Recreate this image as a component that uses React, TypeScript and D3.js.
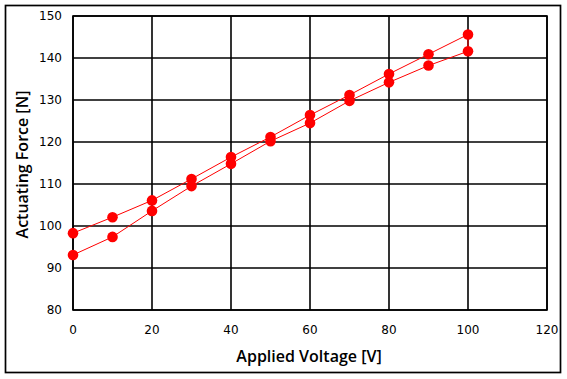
import React from "react";
import * as d3 from "d3";

const voltage = [0, 10, 20, 30, 40, 50, 60, 70, 80, 90, 100];
const forceIncreasing = [93.1, 97.4, 103.6, 109.5, 114.8, 120.2, 124.5, 129.8, 134.2, 138.2, 141.6];
const forceDecreasing = [98.3, 102.1, 106.1, 111.2, 116.4, 121.2, 126.4, 131.2, 136.2, 140.9, 145.6];
const xTicks = [0, 20, 40, 60, 80, 100, 120];
const yTicks = [80, 90, 100, 110, 120, 130, 140, 150];
const xTitle = "Applied Voltage [V]";
const yTitle = "Actuating Force [N]";

export default function App() {
  const W = 567, H = 379;
  const L = 73, R = 547, T = 16, B = 310;
  const x = d3.scaleLinear().domain([0, 120]).range([L, R]);
  const y = d3.scaleLinear().domain([80, 150]).range([B, T]);

  const up = voltage.map((v, i) => [v, forceIncreasing[i]] as [number, number]);
  const down = voltage.map((v, i) => [v, forceDecreasing[i]] as [number, number]).reverse();
  const pts = [...up, ...down];
  const line = d3.line<[number, number]>().x(d => x(d[0])).y(d => y(d[1]));
  const font = "'DejaVu Sans', sans-serif";
  const titleFont = "'Open Sans', sans-serif";

  return (
    <svg width={W} height={H} style={{ position: "absolute", left: 0, top: 0, background: "#fff" }}>
      <rect x={0} y={0} width={W} height={H} fill="#fff" />
      <rect x={5.5} y={5.5} width={555} height={367} fill="none" stroke="#000" strokeWidth={1.7} />
      {yTicks.map(t => (
        <line key={"gy" + t} x1={L} x2={R} y1={y(t)} y2={y(t)} stroke="#000" strokeWidth={1.6} />
      ))}
      {xTicks.map(t => (
        <line key={"gx" + t} x1={x(t)} x2={x(t)} y1={T} y2={B} stroke="#000" strokeWidth={1.6} />
      ))}
      <rect x={L} y={T} width={R - L} height={B - T} fill="none" stroke="#000" strokeWidth={1.6} />
      {yTicks.map(t => (
        <text key={"ty" + t} x={62} y={y(t)} dy="0.35em" textAnchor="end" fontFamily={font} fontSize={12} fill="#000">{t}</text>
      ))}
      {xTicks.map(t => (
        <text key={"tx" + t} x={x(t)} y={330} dy="0.35em" textAnchor="middle" fontFamily={font} fontSize={12} fill="#000">{t}</text>
      ))}
      <text x={309} y={362} textAnchor="middle" fontFamily={titleFont} fontWeight={600} fontSize={16} fill="#000">{xTitle}</text>
      <text transform={`translate(28,164.5) rotate(-90)`} textAnchor="middle" fontFamily={titleFont} fontWeight={600} fontSize={16} fill="#000">{yTitle}</text>
      <path d={line(pts) || ""} fill="none" stroke="#ff0000" strokeWidth={1} />
      {pts.map((d, i) => (
        <circle key={"p" + i} cx={x(d[0])} cy={y(d[1])} r={5.3} fill="#ff0000" />
      ))}
    </svg>
  );
}
